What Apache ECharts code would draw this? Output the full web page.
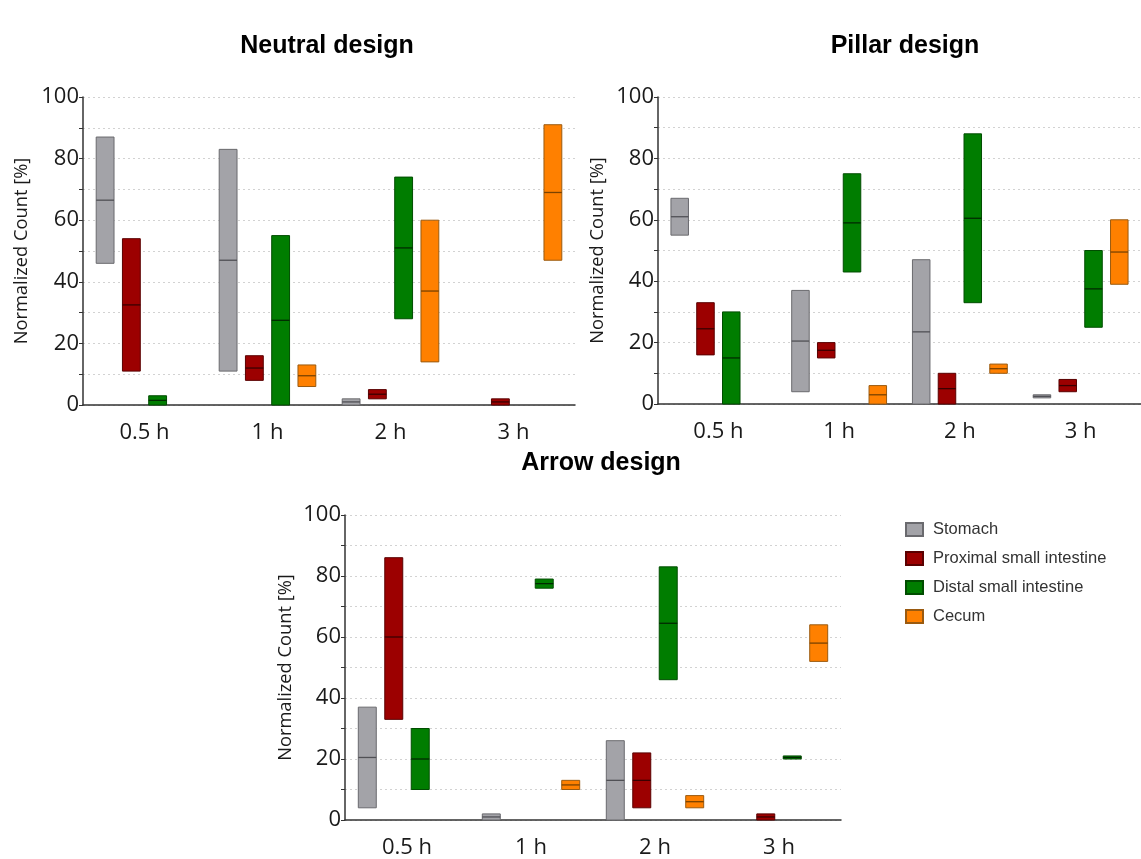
<!DOCTYPE html>
<html>
<head>
<meta charset="utf-8">
<script src="https://cdn.jsdelivr.net/npm/echarts@6/dist/echarts.min.js"></script>
<style>
html,body{margin:0;padding:0;background:#fff;}
#chart{width:1141px;height:859px;}
</style>
</head>
<body>
<div id="chart"></div>
<script>
// ---- data: [time point, min, median, max] in percent ----
const categories = ['0.5 h', '1 h', '2 h', '3 h'];
const organs = ['Stomach', 'Proximal small intestine', 'Distal small intestine', 'Cecum'];
const panelTitles = ['Neutral design', 'Pillar design', 'Arrow design'];
const yTicks = [0, 20, 40, 60, 80, 100];

const neutralStomach = [['0.5 h', 46, 66.5, 87], ['1 h', 11, 47, 83], ['2 h', 0, 1, 2]];
const neutralProximal = [['0.5 h', 11, 32.5, 54], ['1 h', 8, 12, 16], ['2 h', 2, 3.5, 5], ['3 h', 0, 1, 2]];
const neutralDistal = [['0.5 h', 0, 1.5, 3], ['1 h', 0, 27.5, 55], ['2 h', 28, 51, 74]];
const neutralCecum = [['1 h', 6, 9.5, 13], ['2 h', 14, 37, 60], ['3 h', 47, 69, 91]];

const pillarStomach = [['0.5 h', 55, 61, 67], ['1 h', 4, 20.5, 37], ['2 h', 0, 23.5, 47], ['3 h', 2, 2.5, 3]];
const pillarProximal = [['0.5 h', 16, 24.5, 33], ['1 h', 15, 17.5, 20], ['2 h', 0, 5, 10], ['3 h', 4, 6, 8]];
const pillarDistal = [['0.5 h', 0, 15, 30], ['1 h', 43, 59, 75], ['2 h', 33, 60.5, 88], ['3 h', 25, 37.5, 50]];
const pillarCecum = [['1 h', 0, 3, 6], ['2 h', 10, 11.5, 13], ['3 h', 39, 49.5, 60]];

const arrowStomach = [['0.5 h', 4, 20.5, 37], ['1 h', 0, 1, 2], ['2 h', 0, 13, 26]];
const arrowProximal = [['0.5 h', 33, 60, 86], ['2 h', 4, 13, 22], ['3 h', 0, 1, 2]];
const arrowDistal = [['0.5 h', 10, 20, 30], ['1 h', 76, 77.5, 79], ['2 h', 46, 64.5, 83], ['3 h', 20, 20.5, 21]];
const arrowCecum = [['1 h', 10, 11.5, 13], ['2 h', 4, 6, 8], ['3 h', 52, 58, 64]];

const panelData = [
  [neutralStomach, neutralProximal, neutralDistal, neutralCecum],
  [pillarStomach, pillarProximal, pillarDistal, pillarCecum],
  [arrowStomach, arrowProximal, arrowDistal, arrowCecum]
];

// ---- styles ----
const fills = ['#a3a3a8', '#9c0000', '#007d00', '#ff8000'];
const strokes = ['#6a6a6e', '#5a0000', '#004d00', '#9a5a10'];
const medians = ['#505055', '#3a0000', '#002a00', '#7a4200'];

const grids = [
  {left: 83, top: 97, width: 492, height: 308},
  {left: 658, top: 97, width: 490, height: 307},
  {left: 345, top: 515, width: 496, height: 307}
];
const titlePos = [[322, 29], [900, 29], [596, 446]];
const nameGaps = [52, 51, 50];

const labelFont = '"Open Sans", sans-serif';

function makeRender(k) {
  return function (params, api) {
    const cat = api.value(0);
    const lo = api.coord([cat, api.value(1)]);
    const md = api.coord([cat, api.value(2)]);
    const hi = api.coord([cat, api.value(3)]);
    const band = api.size([1, 0])[0];
    const w = band * 0.145;
    const cx = lo[0] + (k - 1.5) * band * 0.2135;
    return {
      type: 'group',
      children: [
        {type: 'rect', shape: {x: cx - w / 2, y: hi[1], width: w, height: Math.max(lo[1] - hi[1], 1)},
         style: {fill: fills[k], stroke: strokes[k], lineWidth: 1}},
        {type: 'line', shape: {x1: cx - w / 2, y1: md[1], x2: cx + w / 2, y2: md[1]},
         style: {stroke: medians[k], lineWidth: 1.3}}
      ]
    };
  };
}

const xAxes = [], yAxes = [], series = [], titles = [];
grids.forEach((g, p) => {
  xAxes.push({
    type: 'category', gridIndex: p, data: categories,
    axisLine: {lineStyle: {color: '#333', width: 1.5}},
    axisTick: {alignWithLabel: true, length: 5, lineStyle: {color: '#333', width: 1.5}},
    axisLabel: {fontFamily: labelFont, fontSize: 22, color: '#1a1a1a', margin: 17},
    splitLine: {show: false}
  });
  yAxes.push({
    type: 'value', gridIndex: p, min: 0, max: 100, interval: 10,
    name: 'Normalized Count [%]', nameLocation: 'middle', nameGap: nameGaps[p],
    nameTextStyle: {fontFamily: labelFont, fontSize: 18.3, color: '#1a1a1a'},
    axisLine: {show: true, lineStyle: {color: '#333', width: 1.5}},
    axisTick: {show: true, length: 4, lineStyle: {color: '#333'}},
    axisLabel: {fontFamily: labelFont, fontSize: 22, color: '#1a1a1a', margin: 4,
      formatter: v => (yTicks.indexOf(v) >= 0 ? String(v) : '')},
    splitLine: {show: true, lineStyle: {color: '#d2d2d2', type: [2, 3], width: 1}}
  });
  titles.push({
    text: panelTitles[p], left: titlePos[p][0], top: titlePos[p][1], textAlign: 'center',
    textStyle: {fontFamily: '"Liberation Sans", Arial, sans-serif', fontWeight: 'bold', fontSize: 25, color: '#000'}
  });
  panelData[p].forEach((arr, k) => {
    series.push({
      type: 'custom', name: organs[k], xAxisIndex: p, yAxisIndex: p,
      renderItem: makeRender(k),
      encode: {x: 0, y: [1, 2, 3]},
      itemStyle: {color: fills[k], borderColor: strokes[k], borderWidth: 1},
      data: arr, silent: true
    });
  });
});

const chart = echarts.init(document.getElementById('chart'), null, {renderer: 'canvas'});
chart.setOption({
  backgroundColor: '#fff',
  animation: false,
  title: titles,
  grid: grids,
  xAxis: xAxes,
  yAxis: yAxes,
  legend: {
    data: organs, orient: 'vertical', left: 900, top: 516,
    icon: 'rect', itemWidth: 17, itemHeight: 13, itemGap: 12,
    selectedMode: false,
    textStyle: {fontFamily: '"Liberation Sans", Arial, sans-serif', fontSize: 16.5, color: '#333', padding: [0, 0, 0, 5]}
  },
  series: series
});
</script>
</body>
</html>
